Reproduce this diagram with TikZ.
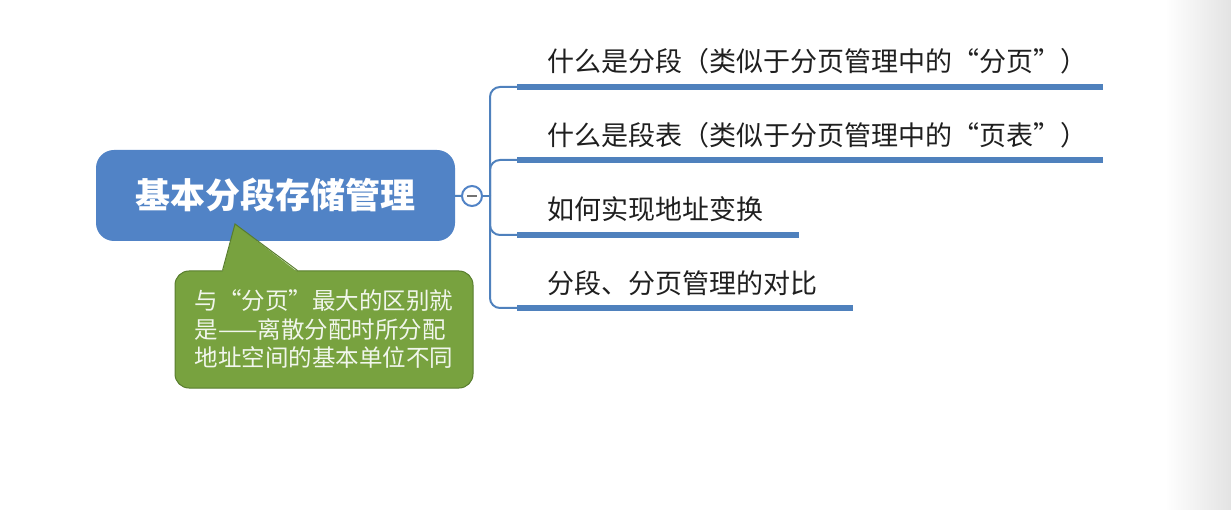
\documentclass[tikz,border=0pt]{standalone}
\usepackage{fontspec}
\newfontfamily\cjk{Noto Sans CJK SC}
\usetikzlibrary{positioning,calc}
\definecolor{MapBlue}{HTML}{5183C6}
\definecolor{BarBlue}{HTML}{4F81BD}
\definecolor{NoteGreen}{HTML}{78A23F}
\definecolor{NoteEdge}{HTML}{587D2D}

\begin{document}
\begin{tikzpicture}[
  x=1pt, y=-1pt,
  root/.style={fill=MapBlue, rounded corners=18pt, minimum width=359pt, minimum height=91pt, text=white, font=\cjk\bfseries\fontsize{35}{40}\selectfont},
  hubdot/.style={circle, draw=MapBlue, line width=2pt, fill=white, minimum size=20pt, inner sep=0pt},
  link/.style={draw=BarBlue, line width=2pt},
  bar/.style={draw=BarBlue, line width=5.5pt},
  topic/.style={anchor=west, inner sep=0pt, text=black!88, font=\cjk\fontsize{27}{32}\selectfont},
  note/.style={fill=NoteGreen, draw=NoteEdge, line width=1pt, rounded corners=14pt, minimum width=298pt, minimum height=117pt, align=left, text=white!90!NoteGreen, font=\cjk\fontsize{23.5}{28.5}\selectfont}
]
\useasboundingbox (0,0) rectangle (1231,510);
\shade[left color=white, right color=black!11] (1165,0) rectangle (1231,510);

% root topic and collapse button
\node[root] (root) at (275.5,195.5) {基本分段存储管理};
\node[hubdot] (hub) at (472,196) {};
\draw[black!55, line width=2.5pt] ($(hub.center)+(-5,0)$) -- ($(hub.center)+(5,0)$);
\draw[link] (root) -- (hub);

% branches
\coordinate (trunk) at (490,196);
\coordinate (b1) at (517,87);
\coordinate (b2) at (517,160);
\coordinate (b3) at (517,235);
\coordinate (b4) at (517,308);
\draw[link] (hub.east) -- (trunk);
\foreach \b in {b1,b2,b3,b4}
  \draw[link, rounded corners=10pt] (trunk) |- (\b);
\draw[bar] (b1) -- ++(586,0);
\draw[bar] (b2) -- ++(586,0);
\draw[bar] (b3) -- ++(282,0);
\draw[bar] (b4) -- ++(336,0);

\node[topic] (t1) at ($(b1)+(30,-26)$) {什么是分段（类似于分页管理中的“分页”）};
\node[topic] (t2) at ($(b2)+(30,-25)$) {什么是段表（类似于分页管理中的“页表”）};
\node[topic] (t3) at ($(b3)+(30,-26)$) {如何实现地址变换};
\node[topic] (t4) at ($(b4)+(30,-25)$) {分段、分页管理的对比};

% callout
\node[note] (note) at (324,329.5) {与“分页”最大的区别就\\是——离散分配时所分配\\地址空间的基本单位不同};
\coordinate (tip) at (235,224);
\fill[NoteGreen] ($(note.north west)+(48,1.5)$) -- (tip) -- ($(note.north west)+(123,1.5)$) -- cycle;
\draw[NoteEdge, line width=1pt] ($(note.north west)+(48,0)$) -- (tip) -- ($(note.north west)+(123,0)$);
\end{tikzpicture}
\end{document}
